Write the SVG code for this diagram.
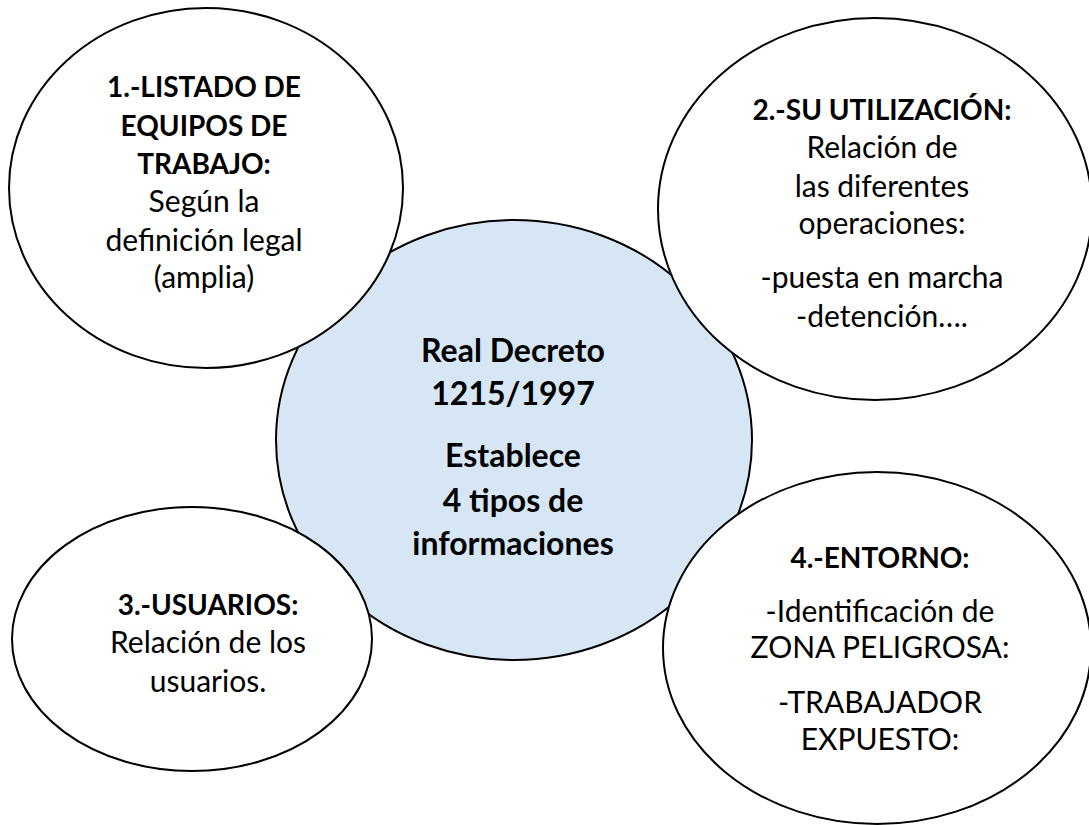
<svg xmlns="http://www.w3.org/2000/svg" width="1089" height="825" viewBox="0 0 1089 825">
<style>
.bg{fill:#fff}
.c{fill:#D6E6F4;stroke:#000;stroke-width:2}
.e{fill:#fff;stroke:#000;stroke-width:2}
text{font-family:Lato,"Liberation Sans",sans-serif;font-size:30px;fill:#000;text-anchor:middle}
.b{font-weight:bold;font-size:28px}
.cb{font-weight:bold;font-size:32px}
</style>
<rect class="bg" x="0" y="0" width="1089" height="825"/>
<g id="center">
<ellipse class="c" cx="514" cy="440" rx="238" ry="220"/>
<text class="cb" x="513" y="362">Real Decreto</text>
<text class="cb" x="513" y="405">1215/1997</text>
<text class="cb" x="513" y="467">Establece</text>
<text class="cb" x="513" y="512">4 tipos de</text>
<text class="cb" x="513" y="555">informaciones</text>
</g>
<g id="n1">
<ellipse class="e" cx="206" cy="188" rx="197" ry="180"/>
<text class="b" x="204" y="97">1.-LISTADO DE</text>
<text class="b" x="204" y="136">EQUIPOS DE</text>
<text class="b" x="204" y="174">TRABAJO:</text>
<text x="204" y="212">Según la</text>
<text x="204" y="251">definición legal</text>
<text x="204" y="288">(amplia)</text>
</g>
<g id="n2">
<ellipse class="e" cx="875" cy="209" rx="217" ry="191"/>
<text class="b" x="882" y="120">2.-SU UTILIZACIÓN:</text>
<text x="882" y="158">Relación de</text>
<text x="882" y="197">las diferentes</text>
<text x="882" y="234">operaciones:</text>
<text x="882" y="288">-puesta en marcha</text>
<text x="882" y="327">-detención….</text>
</g>
<g id="n3">
<ellipse class="e" cx="192" cy="639" rx="180" ry="132"/>
<text class="b" x="208" y="615">3.-USUARIOS:</text>
<text x="208" y="653">Relación de los</text>
<text x="208" y="692">usuarios.</text>
</g>
<g id="n4">
<ellipse class="e" cx="877" cy="648" rx="214" ry="176"/>
<text class="b" x="880" y="568">4.-ENTORNO:</text>
<text x="880" y="622">-Identificación de</text>
<text x="880" y="658">ZONA PELIGROSA:</text>
<text x="880" y="713">-TRABAJADOR</text>
<text x="880" y="750">EXPUESTO:</text>
</g>
<g id="connectors"></g>
</svg>
